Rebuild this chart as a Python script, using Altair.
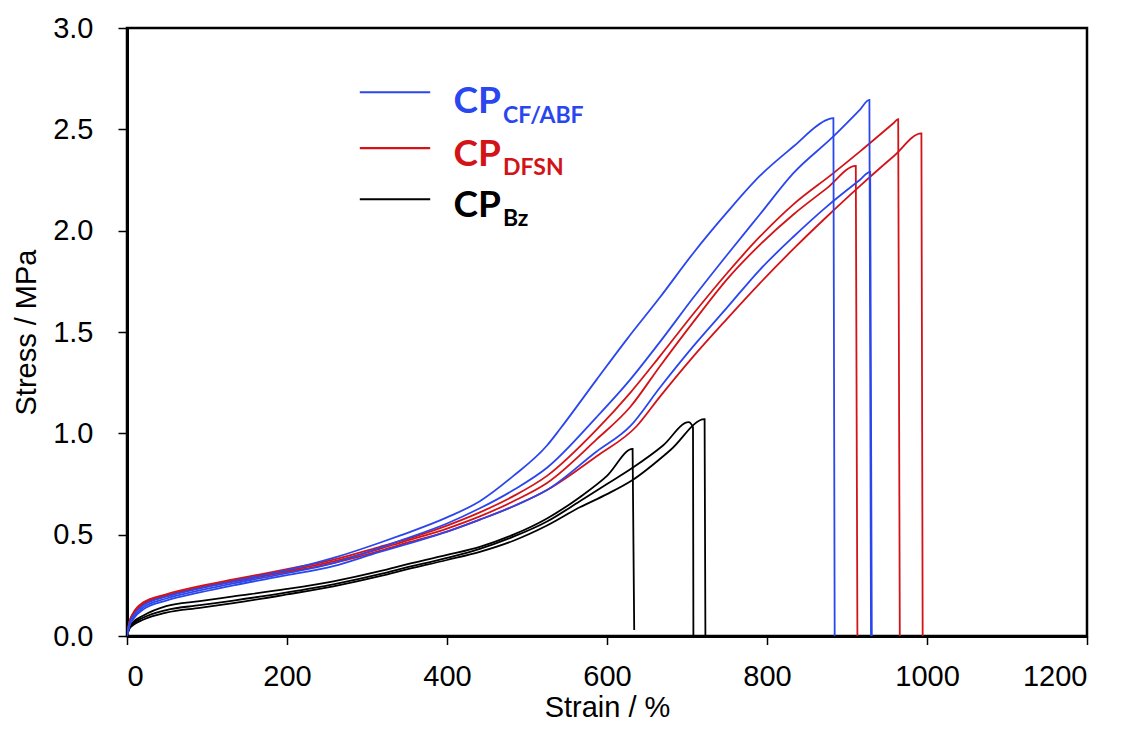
import altair as alt
import pandas as pd

# ---------------- data ----------------
# CP_CF/ABF (blue) specimens
b1_strain = [0, 3, 8, 20, 49, 91, 133, 200, 258, 316, 341, 400, 441, 483, 525, 541, 587, 625, 666, 708, 750, 791, 833, 875, 883, 884.6]
b1_stress = [0, 0.06, 0.10, 0.15, 0.195, 0.235, 0.27, 0.325, 0.385, 0.46, 0.495, 0.585, 0.665, 0.79, 0.94, 1.02, 1.265, 1.465, 1.67, 1.89, 2.09, 2.27, 2.415, 2.547, 2.555, 0]
b2_strain = [0, 3, 8, 20, 49, 91, 133, 200, 258, 316, 341, 400, 441, 483, 525, 587, 629, 666, 708, 750, 791, 833, 883, 916, 928, 930]
b2_stress = [0, 0.055, 0.09, 0.14, 0.185, 0.225, 0.26, 0.31, 0.36, 0.435, 0.47, 0.555, 0.63, 0.72, 0.83, 1.08, 1.265, 1.45, 1.67, 1.88, 2.08, 2.284, 2.465, 2.596, 2.645, 0]
b3_strain = [0, 3, 8, 20, 49, 91, 133, 200, 258, 316, 341, 400, 441, 483, 525, 587, 629, 666, 708, 750, 791, 833, 875, 916, 929, 931]
b3_stress = [0, 0.05, 0.085, 0.13, 0.175, 0.215, 0.25, 0.30, 0.345, 0.415, 0.443, 0.515, 0.574, 0.64, 0.72, 0.91, 1.035, 1.225, 1.43, 1.62, 1.807, 1.97, 2.12, 2.25, 2.29, 0]

# CP_DFSN (red) specimens
r1_strain = [0, 3, 8, 20, 49, 91, 133, 200, 258, 316, 341, 400, 441, 483, 525, 587, 629, 666, 708, 750, 791, 833, 883, 916, 958, 964, 966]
r1_stress = [0, 0.07, 0.115, 0.165, 0.205, 0.246, 0.279, 0.33, 0.377, 0.44, 0.468, 0.545, 0.61, 0.69, 0.79, 1.018, 1.2, 1.38, 1.59, 1.79, 1.97, 2.13, 2.284, 2.39, 2.53, 2.55, 0]
r2_strain = [0, 3, 8, 20, 49, 91, 133, 200, 258, 316, 341, 400, 441, 483, 525, 587, 629, 666, 708, 750, 791, 833, 875, 911, 913]
r2_stress = [0, 0.068, 0.112, 0.16, 0.2, 0.24, 0.273, 0.322, 0.368, 0.43, 0.46, 0.53, 0.59, 0.665, 0.755, 0.97, 1.13, 1.33, 1.55, 1.76, 1.93, 2.08, 2.21, 2.32, 0]
r3_strain = [0, 3, 8, 20, 49, 91, 133, 200, 258, 316, 341, 400, 441, 483, 525, 587, 637, 666, 708, 750, 791, 833, 875, 916, 958, 993, 994.6]
r3_stress = [0, 0.066, 0.108, 0.155, 0.195, 0.236, 0.268, 0.316, 0.36, 0.42, 0.45, 0.515, 0.574, 0.64, 0.72, 0.887, 1.035, 1.18, 1.38, 1.565, 1.74, 1.91, 2.07, 2.22, 2.366, 2.48, 0]

# CP_Bz (black) specimens
k1_strain = [0, 3, 8, 20, 49, 91, 133, 200, 258, 316, 341, 400, 441, 483, 525, 566, 600, 632, 634]
k1_stress = [0, 0.045, 0.07, 0.10, 0.147, 0.172, 0.195, 0.232, 0.27, 0.32, 0.345, 0.40, 0.44, 0.50, 0.58, 0.685, 0.79, 0.923, 0.03]
k2_strain = [0, 3, 8, 20, 49, 91, 133, 200, 258, 316, 341, 400, 441, 483, 525, 566, 600, 632, 670, 702, 707.5, 708]
k2_stress = [0, 0.04, 0.062, 0.09, 0.128, 0.152, 0.175, 0.215, 0.255, 0.305, 0.33, 0.385, 0.43, 0.49, 0.565, 0.665, 0.75, 0.83, 0.94, 1.055, 1.03, 0]
k3_strain = [0, 3, 8, 20, 49, 91, 133, 200, 258, 316, 341, 400, 441, 483, 525, 566, 600, 632, 680, 722, 723]
k3_stress = [0, 0.035, 0.055, 0.08, 0.115, 0.139, 0.162, 0.205, 0.245, 0.295, 0.32, 0.375, 0.415, 0.47, 0.545, 0.635, 0.70, 0.77, 0.92, 1.07, 0]

x_ticks = [0, 200, 400, 600, 800, 1000, 1200]
y_ticks = [0, 0.5, 1.0, 1.5, 2.0, 2.5, 3.0]

legend_main = ["CP", "CP", "CP"]
legend_sub = ["CF/ABF", "DFSN", "Bz"]
groups = ["CF/ABF", "DFSN", "Bz"]
colors = ["#2a46ee", "#d21418", "#000000"]

# ---------------- build tables ----------------
def curve(name, group, xs, ys):
    return pd.DataFrame({"curve": name, "group": group, "strain": xs, "stress": ys,
                         "idx": list(range(len(xs)))})

df_blue = pd.concat([curve("b1", "CF/ABF", b1_strain, b1_stress),
                     curve("b2", "CF/ABF", b2_strain, b2_stress),
                     curve("b3", "CF/ABF", b3_strain, b3_stress)])
df_red = pd.concat([curve("r1", "DFSN", r1_strain, r1_stress),
                    curve("r2", "DFSN", r2_strain, r2_stress),
                    curve("r3", "DFSN", r3_strain, r3_stress)])
df_black = pd.concat([curve("k1", "Bz", k1_strain, k1_stress),
                      curve("k2", "Bz", k2_strain, k2_stress),
                      curve("k3", "Bz", k3_strain, k3_stress)])

xscale = alt.Scale(domain=[0, 1200], nice=False, zero=True)
yscale = alt.Scale(domain=[0, 3], nice=False, zero=True)
cscale = alt.Scale(domain=groups, range=colors)

x_axis = alt.Axis(values=x_ticks, format="d", title="Strain / %", grid=False,
                  labelFont="Liberation Sans", labelFontSize=29, labelColor="black",
                  titleFont="Liberation Sans", titleFontSize=29, titleFontWeight="normal",
                  titleColor="black", tickSize=8.5, tickWidth=1.5, tickColor="black",
                  domainWidth=3, domainColor="black", labelPadding=18,
                  titleX=480, titleY=80, titleBaseline="alphabetic", titleAlign="center")
y_axis = alt.Axis(values=y_ticks, format=".1f", title="Stress / MPa", grid=False,
                  labelFont="Liberation Sans", labelFontSize=29, labelColor="black",
                  titleFont="Liberation Sans", titleFontSize=29, titleFontWeight="normal",
                  titleColor="black", tickSize=9, tickWidth=1.5, tickColor="black",
                  domainWidth=3, domainColor="black", labelPadding=25,
                  titleX=-92, titleY=304, titleAngle=270, titleBaseline="alphabetic",
                  titleAlign="center")


def lines(df):
    return alt.Chart(df).mark_line(strokeWidth=1.8, clip=True, interpolate="monotone").encode(
        x=alt.X("strain:Q", scale=xscale, axis=x_axis),
        y=alt.Y("stress:Q", scale=yscale, axis=y_axis),
        color=alt.Color("group:N", scale=cscale, legend=None),
        detail="curve:N",
        order="idx:Q",
    )

# legend (placed in data units)
leg = pd.DataFrame({
    "group": groups,
    "main": legend_main,
    "sub": legend_sub,
    "lx1": [291.0] * 3,
    "lx2": [379.0] * 3,
    "ly": [2.683, 2.407, 2.155],
    "tx": [408.0] * 3,
    "ty": [2.58, 2.318, 2.069],
    "sx": [470.0] * 3,
    "sy": [2.531, 2.276, 2.024],
})

leg_lines = alt.Chart(leg).mark_rule(strokeWidth=2.2).encode(
    x=alt.X("lx1:Q", scale=xscale, axis=x_axis),
    x2="lx2:Q",
    y=alt.Y("ly:Q", scale=yscale, axis=y_axis),
    color=alt.Color("group:N", scale=cscale, legend=None),
)
leg_main = alt.Chart(leg).mark_text(font="Lato", fontWeight="bold", fontSize=37,
                                    align="left", baseline="alphabetic").encode(
    x=alt.X("tx:Q", scale=xscale, axis=x_axis),
    y=alt.Y("ty:Q", scale=yscale, axis=y_axis),
    text="main:N",
    color=alt.Color("group:N", scale=cscale, legend=None),
)
leg_sub = alt.Chart(leg).mark_text(font="Lato", fontWeight="bold", fontSize=23,
                                   align="left", baseline="alphabetic").encode(
    x=alt.X("sx:Q", scale=xscale, axis=x_axis),
    y=alt.Y("sy:Q", scale=yscale, axis=y_axis),
    text="sub:N",
    color=alt.Color("group:N", scale=cscale, legend=None),
)

chart = alt.layer(
    lines(df_black), lines(df_red), lines(df_blue),
    leg_lines, leg_main, leg_sub,
).properties(
    width=960, height=608,
    autosize=alt.AutoSizeParams(type="none"),
    padding={"left": 119, "top": 20, "right": 30, "bottom": 87},
    background="white",
).configure_view(
    stroke="black", strokeWidth=2.5,
)

chart.save("out.html", embed_options={"renderer": "svg", "actions": False})
